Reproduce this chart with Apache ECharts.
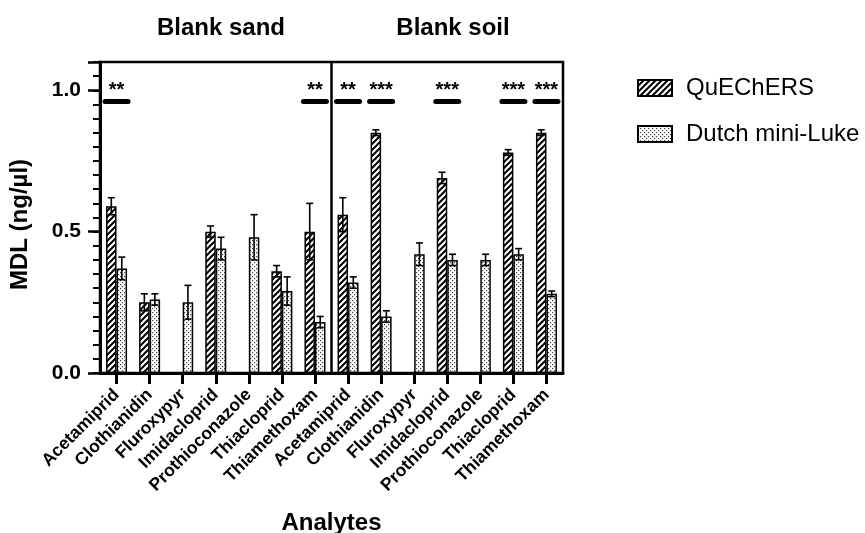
<!DOCTYPE html>
<html>
<head>
<meta charset="utf-8">
<script src="https://cdn.jsdelivr.net/npm/echarts@6/dist/echarts.min.js"></script>
<style>html,body{margin:0;padding:0;background:#fff;}#c{width:865px;height:533px;}</style>
</head>
<body>
<div id="c"></div>
<script>
// ---- data ----
const analytes = ['Acetamiprid','Clothianidin','Fluroxypyr','Imidacloprid','Prothioconazole','Thiacloprid','Thiamethoxam'];
const categories = analytes.concat(analytes);
const panelTitles = ['Blank sand', 'Blank soil'];
const seriesNames = ['QuEChERS', 'Dutch mini-Luke'];
const qSand = [0.59, 0.25, null, 0.50, null, 0.36, 0.50];
const dSand = [0.37, 0.26, 0.25, 0.44, 0.48, 0.29, 0.18];
const qSoil = [0.56, 0.85, null, 0.69, null, 0.78, 0.85];
const dSoil = [0.32, 0.20, 0.42, 0.40, 0.40, 0.42, 0.28];
const qSandErr = [0.03, 0.03, null, 0.02, null, 0.02, 0.10];
const dSandErr = [0.04, 0.02, 0.06, 0.04, 0.08, 0.05, 0.02];
const qSoilErr = [0.06, 0.01, null, 0.02, null, 0.01, 0.01];
const dSoilErr = [0.02, 0.02, 0.04, 0.02, 0.02, 0.02, 0.01];
const sigIndex = [0, 6, 7, 8, 10, 12, 13];
const sigLabel = ['**', '**', '**', '***', '***', '***', '***'];
const sigLevel = 0.96;
const yTickLabels = ['0.0', '0.5', '1.0'];

(function () {
// ---- build ----
const qVals = qSand.concat(qSoil);
const dVals = dSand.concat(dSoil);
const qErr = qSandErr.concat(qSoilErr);
const dErr = dSandErr.concat(dSoilErr);

function hatchPattern() {
  const s = 6, c = document.createElement('canvas');
  c.width = s; c.height = s;
  const g = c.getContext('2d');
  g.fillStyle = '#fff'; g.fillRect(0, 0, s, s);
  g.strokeStyle = '#000'; g.lineWidth = 2;
  g.beginPath();
  g.moveTo(-1, s + 1); g.lineTo(s + 1, -1);
  g.moveTo(-s / 2 - 1, s / 2 + 1); g.lineTo(s / 2 + 1, -s / 2 - 1);
  g.moveTo(s / 2 - 1, s * 1.5 + 1); g.lineTo(s * 1.5 + 1, s / 2 - 1);
  g.stroke();
  return c;
}
function dotPattern() {
  const s = 4, c = document.createElement('canvas');
  c.width = s; c.height = s;
  const g = c.getContext('2d');
  g.fillStyle = '#fff'; g.fillRect(0, 0, s, s);
  g.fillStyle = '#444';
  g.fillRect(0, 0, 1.2, 1.2);
  g.fillRect(2, 2, 1.2, 1.2);
  return c;
}

const BW = 10.5;
const FONT = '"Liberation Sans", Arial, Helvetica, sans-serif';

function errData(vals, errs) {
  return vals.map((v, i) => (v == null || errs[i] == null) ? [i, NaN, NaN] : [i, v - errs[i], v + errs[i]]);
}
function errRender(offset) {
  return function (params, api) {
    const lo = api.value(1), hi = api.value(2);
    if (isNaN(lo)) return null;
    const x = api.value(0);
    const pHi = api.coord([x, hi]);
    const pLo = api.coord([x, lo]);
    const cx = pHi[0] + offset;
    const cap = 3.5;
    const st = { stroke: '#000', lineWidth: 1.6 };
    return {
      type: 'group',
      children: [
        { type: 'line', shape: { x1: cx, y1: pHi[1], x2: cx, y2: pLo[1] }, style: st },
        { type: 'line', shape: { x1: cx - cap, y1: pHi[1], x2: cx + cap, y2: pHi[1] }, style: st },
        { type: 'line', shape: { x1: cx - cap, y1: pLo[1], x2: cx + cap, y2: pLo[1] }, style: st }
      ]
    };
  };
}

const sigData = sigIndex.map((idx, k) => [idx, sigLevel, sigLabel[k]]);

const chart = echarts.init(document.getElementById('c'), null, { renderer: 'canvas' });
const hatch = hatchPattern();
const dots = dotPattern();

const option = {
  animation: false,
  backgroundColor: '#fff',
  title: [
    { text: panelTitles[0], left: 216, top: 11, textAlign: 'center',
      textStyle: { fontFamily: FONT, fontSize: 24, fontWeight: 'bold', color: '#000' } },
    { text: panelTitles[1], left: 448, top: 11, textAlign: 'center',
      textStyle: { fontFamily: FONT, fontSize: 24, fontWeight: 'bold', color: '#000' } }
  ],
  legend: {
    data: seriesNames,
    orient: 'vertical',
    left: 632, top: 71,
    itemWidth: 34, itemHeight: 16, itemGap: 22,
    icon: 'rect',
    textStyle: { fontFamily: FONT, fontSize: 24, color: '#000', padding: [0, 0, 0, 9] }
  },
  grid: {
    left: 100, right: 302, top: 62, bottom: 160,
    outerBoundsMode: 'none',
    containLabel: false,
    show: true, borderColor: '#000', borderWidth: 2.5, backgroundColor: 'transparent'
  },
  xAxis: {
    type: 'category',
    data: categories,
    name: 'Analytes',
    nameLocation: 'middle',
    nameGap: 138,
    nameTextStyle: { fontFamily: FONT, fontSize: 24, fontWeight: 'bold', color: '#000' },
    axisLine: { show: true, lineStyle: { color: '#000', width: 3 } },
    axisTick: { show: true, alignWithLabel: true, length: 11, lineStyle: { color: '#000', width: 3 } },
    axisLabel: { interval: 0, rotate: 45, margin: 19, fontFamily: FONT, fontSize: 17.5, fontWeight: 'bold', color: '#000' },
    splitLine: { show: false }
  },
  yAxis: [
    {
      type: 'value', min: 0, max: 1.1, interval: 0.05,
      name: 'MDL (ng/µl)',
      nameLocation: 'middle',
      nameGap: 68,
      nameTextStyle: { fontFamily: FONT, fontSize: 24, fontWeight: 'bold', color: '#000', padding: [0, 14, 0, 0] },
      axisLine: { show: true, lineStyle: { color: '#000', width: 3 } },
      axisTick: { show: true, length: 7, lineStyle: { color: '#000', width: 2 } },
      axisLabel: { show: false },
      splitLine: { show: false }
    },
    {
      type: 'value', min: 0, max: 1.1, interval: 0.5, position: 'left',
      axisLine: { show: false },
      axisTick: { show: true, length: 12, lineStyle: { color: '#000', width: 2.5 } },
      axisLabel: {
        margin: 19, fontFamily: FONT, fontSize: 21, fontWeight: 'bold', color: '#000',
        formatter: function (v) {
          const k = Math.round(v / 0.5);
          return (Math.abs(v - k * 0.5) < 1e-6 && yTickLabels[k] !== undefined) ? yTickLabels[k] : '';
        }
      },
      splitLine: { show: false }
    }
  ],
  series: [
    {
      name: seriesNames[0], type: 'bar', barWidth: BW, barGap: '0%',
      data: qVals.map(v => v == null ? '-' : v),
      itemStyle: { color: { image: hatch, repeat: 'repeat' }, borderColor: '#000', borderWidth: 1.5 },
      z: 2
    },
    {
      name: seriesNames[1], type: 'bar', barWidth: BW, barGap: '0%',
      data: dVals.map(v => v == null ? '-' : v),
      itemStyle: { color: { image: dots, repeat: 'repeat' }, borderColor: '#000', borderWidth: 1.5 },
      z: 2
    },
    {
      name: 'errQ', type: 'custom', renderItem: errRender(-BW / 2),
      data: errData(qVals, qErr), encode: { x: 0, y: [1, 2] }, z: 5, silent: true
    },
    {
      name: 'errD', type: 'custom', renderItem: errRender(BW / 2),
      data: errData(dVals, dErr), encode: { x: 0, y: [1, 2] }, z: 5, silent: true
    },
    {
      name: 'sig', type: 'custom',
      data: sigData,
      encode: { x: 0, y: 1 },
      z: 6, silent: true,
      renderItem: function (params, api) {
        const p = api.coord([api.value(0), api.value(1)]);
        const half = 11.5;
        const txt = sigData[params.dataIndex][2];
        return {
          type: 'group',
          children: [
            { type: 'line', shape: { x1: p[0] - half, y1: p[1], x2: p[0] + half, y2: p[1] },
              style: { stroke: '#000', lineWidth: 5, lineCap: 'round' } },
            { type: 'text', x: p[0], y: p[1] - 11,
              style: { text: txt, fill: '#000', font: 'bold 20px ' + FONT, align: 'center', verticalAlign: 'middle' } }
          ]
        };
      }
    }
  ]
};
chart.setOption(option);

// divider between the two panels, placed from the axis scale
const pa = chart.convertToPixel({ xAxisIndex: 0 }, analytes.length - 1);
const pb = chart.convertToPixel({ xAxisIndex: 0 }, analytes.length);
const yTopPx = chart.convertToPixel({ yAxisIndex: 0 }, 1.1);
const yBotPx = chart.convertToPixel({ yAxisIndex: 0 }, 0);
const xd = (pa + pb) / 2;
chart.setOption({
  graphic: [
    { type: 'line', shape: { x1: xd, y1: yTopPx, x2: xd, y2: yBotPx }, style: { stroke: '#000', lineWidth: 2.5 }, z: 10 }
  ]
});
})();
</script>
</body>
</html>
